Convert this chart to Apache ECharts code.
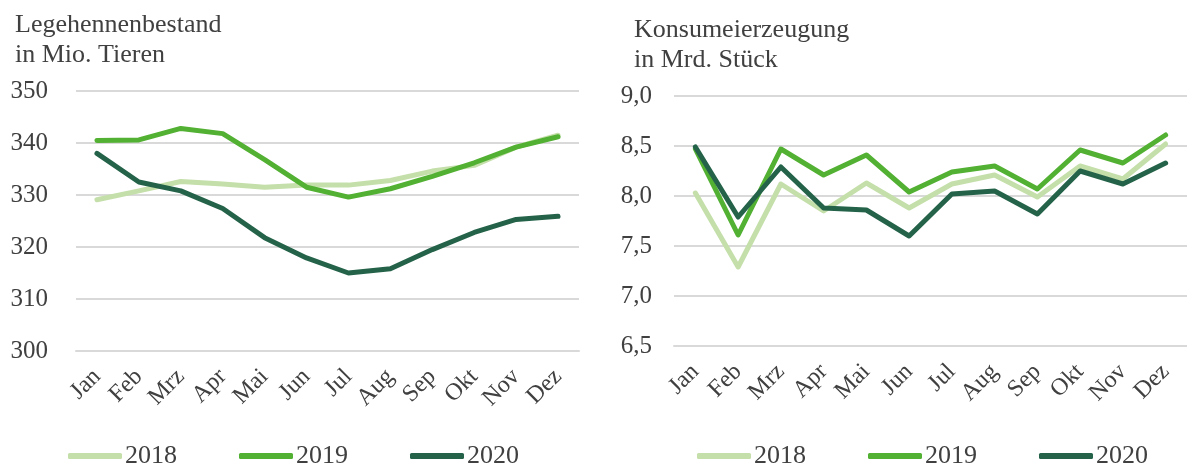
<!DOCTYPE html>
<html>
<head>
<meta charset="utf-8">
<script src="https://cdn.jsdelivr.net/npm/echarts@6/dist/echarts.min.js"></script>
<style>
  html, body { margin: 0; padding: 0; background: #fff; }
  #chart { width: 1187px; height: 466px; }
</style>
</head>
<body>
<div id="chart"></div>
<script>
// Monate (x-Achse) und Jahre (Serien)
const months = ['Jan', 'Feb', 'Mrz', 'Apr', 'Mai', 'Jun', 'Jul', 'Aug', 'Sep', 'Okt', 'Nov', 'Dez'];
const years = ['2018', '2019', '2020'];
const yearColors = ['#C4DFA9', '#52B032', '#246349'];

// Legehennenbestand in Mio. Tieren
const hens2018 = [329.1, 330.8, 332.6, 332.1, 331.5, 331.9, 331.9, 332.8, 334.6, 335.7, 339.2, 341.5];
const hens2019 = [340.5, 340.6, 342.8, 341.8, 336.8, 331.5, 329.6, 331.2, 333.6, 336.2, 339.2, 341.2];
const hens2020 = [338.0, 332.5, 330.8, 327.4, 321.8, 317.9, 315.0, 315.8, 319.5, 322.8, 325.3, 325.9];

// Konsumeierzeugung in Mrd. Stück
const eggs2018 = [8.03, 7.29, 8.12, 7.85, 8.13, 7.88, 8.12, 8.21, 7.99, 8.30, 8.17, 8.52];
const eggs2019 = [8.47, 7.61, 8.47, 8.21, 8.41, 8.04, 8.24, 8.30, 8.07, 8.46, 8.33, 8.61];
const eggs2020 = [8.49, 7.79, 8.29, 7.88, 7.86, 7.60, 8.02, 8.05, 7.82, 8.25, 8.12, 8.33];

const FONT = '"Liberation Serif", "Times New Roman", serif';
const TXT = '#404040';
const GRIDC = '#D9D9D9';

function xAxis(gridIndex) {
  return {
    type: 'category', gridIndex, data: months,
    axisLine: { lineStyle: { color: GRIDC, width: 2 } },
    axisTick: { inside: true, length: 7, lineStyle: { color: GRIDC, width: 2 } },
    axisLabel: { interval: 0, rotate: 45, margin: 22, color: TXT, fontFamily: FONT, fontSize: 24 },
  };
}

function yAxis(gridIndex, min, max, interval, margin, fmt) {
  return {
    type: 'value', gridIndex, min, max, interval,
    axisLine: { show: false }, axisTick: { show: false },
    splitLine: { lineStyle: { color: GRIDC, width: 2 } },
    axisLabel: { margin, color: TXT, fontFamily: FONT, fontSize: 25, formatter: fmt },
  };
}

function line(name, data, idx, axisIdx) {
  return {
    name, type: 'line', data, xAxisIndex: axisIdx, yAxisIndex: axisIdx,
    showSymbol: false, symbol: 'none',
    lineStyle: { width: 5, color: yearColors[idx], cap: 'round', join: 'round' },
    itemStyle: { color: yearColors[idx] },
  };
}

// Legende unten, je Diagramm eine eigene
function legend(left) {
  return {
    left, top: 443, padding: 0, itemWidth: 54, itemHeight: 6, itemGap: 62, icon: 'roundRect',
    data: years,
    textStyle: { color: TXT, fontFamily: FONT, fontSize: 26, padding: [0, 0, 0, -2] },
  };
}

const chart = echarts.init(document.getElementById('chart'));
chart.setOption({
  animation: false,
  title: [
    { text: 'Legehennenbestand\nin Mio. Tieren', left: 15, top: 10, padding: 0,
      textStyle: { color: TXT, fontFamily: FONT, fontSize: 26, fontWeight: 'normal', lineHeight: 30 } },
    { text: 'Konsumeierzeugung\nin Mrd. Stück', left: 634, top: 15, padding: 0,
      textStyle: { color: TXT, fontFamily: FONT, fontSize: 26, fontWeight: 'normal', lineHeight: 30 } },
  ],
  grid: [
    { left: 76, top: 91, width: 503, height: 260 },
    { left: 674, top: 96, width: 521, height: 250 },
  ],
  xAxis: [xAxis(0), xAxis(1)],
  yAxis: [
    yAxis(0, 300, 350, 10, 28, (v) => String(v)),
    yAxis(1, 6.5, 9, 0.5, 22, (v) => v.toFixed(1).replace('.', ',')),
  ],
  legend: [legend(68), legend(697)],
  series: [
    line('2018', hens2018, 0, 0),
    line('2019', hens2019, 1, 0),
    line('2020', hens2020, 2, 0),
    line('2018', eggs2018, 0, 1),
    line('2019', eggs2019, 1, 1),
    line('2020', eggs2020, 2, 1),
  ],
});
</script>
</body>
</html>
